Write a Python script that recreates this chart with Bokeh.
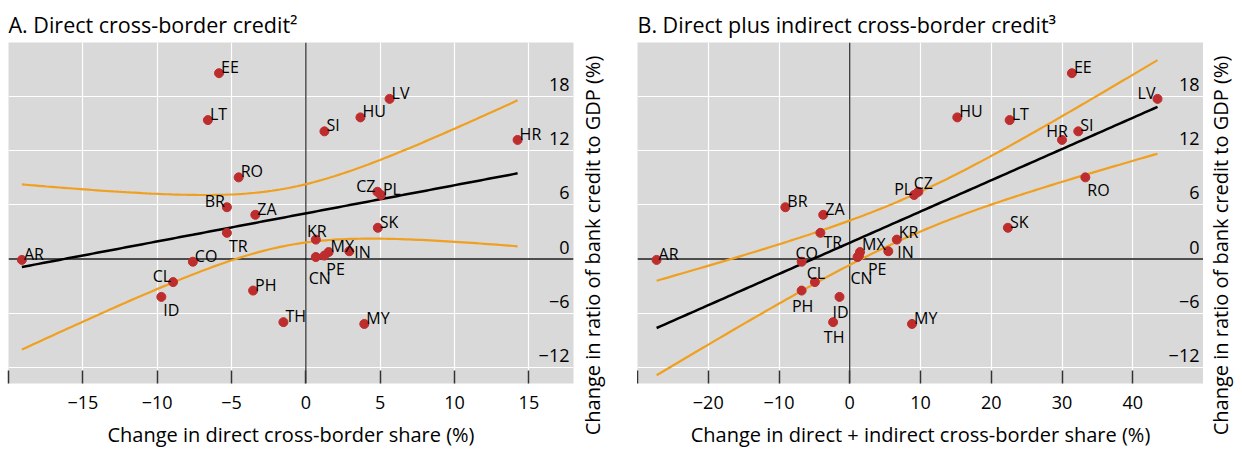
import math
import numpy as np
from bokeh.plotting import figure
from bokeh.layouts import row, column
from bokeh.models import ColumnDataSource, FixedTicker, Span, Range1d, Grid
from bokeh.core.properties import value
from bokeh.embed import file_html
from bokeh.resources import INLINE

# ---------------- data ----------------
COUNTRIES = ["EE", "LT", "LV", "HU", "SI", "HR", "RO", "CZ", "PL", "BR", "ZA", "TR", "SK",
             "KR", "AR", "CO", "MX", "IN", "CN", "PE", "CL", "ID", "PH", "TH", "MY"]
# change in ratio of bank credit to GDP (%)
CREDIT_CHANGE = [20.6, 15.4, 17.75, 15.7, 14.15, 13.2, 9.05, 7.45, 7.1, 5.74, 4.9, 2.9, 3.46,
                 2.15, -0.1, -0.3, 0.77, 0.86, 0.22, 0.38, -2.56, -4.2, -3.5, -7.0, -7.2]
# change in direct cross-border share (%)
DIRECT_SHARE = [-5.84, -6.59, 5.63, 3.67, 1.25, 14.24, -4.52, 4.81, 5.05, -5.31, -3.40, -5.31, 4.84,
                0.67, -19.1, -7.6, 1.53, 2.92, 0.67, 1.24, -8.93, -9.72, -3.55, -1.51, 3.93]
# change in direct + indirect cross-border share (%)
TOTAL_SHARE = [31.4, 22.6, 43.5, 15.2, 32.3, 30.0, 33.3, 9.7, 9.1, -9.1, -3.75, -4.15, 22.35,
               6.65, -27.3, -6.8, 1.45, 5.45, 1.1, 1.3, -4.93, -1.45, -6.8, -2.35, 8.8]

X_TICKS_A = [-20, -15, -10, -5, 0, 5, 10, 15]
X_TICK_LABELS_A = ["", "\u221215", "\u221210", "\u22125", "0", "5", "10", "15"]
X_TICKS_B = [-30, -20, -10, 0, 10, 20, 30, 40]
X_TICK_LABELS_B = ["", "\u221220", "\u221210", "0", "10", "20", "30", "40"]
Y_TICKS = [-12, -6, 0, 6, 12, 18]
Y_TICK_LABELS = ["\u221212", "\u22126", "0", "6", "12", "18"]

TITLE_A = "A. Direct cross-border credit\u00b2"
TITLE_B = "B. Direct plus indirect cross-border credit\u00b3"
XLABEL_A = "Change in direct cross-border share (%)"
XLABEL_B = "Change in direct + indirect cross-border share (%)"
YLABEL = "Change in ratio of bank credit to GDP (%)"

# ---------------- styling ----------------
FONT = "Open Sans"
BG = "#d9d9d9"
RED = "#be2d2d"
ORANGE = "#f0a020"
T_CRIT = 2.069  # two-sided 95%, 23 degrees of freedom

X_RANGE_A = (-20, 18)
X_RANGE_B = (-30, 50)
Y_RANGE = (-13.8, 24)

# label placement codes -> (dx, dy, align), text vertically centred at point + dy
PLACE = {
    "ur": (2, -6, "left"),
    "ur2": (2, -8, "left"),
    "ul": (-2, -6, "right"),
    "uc": (1, -9, "center"),
    "ucl": (-5, -9, "center"),
    "ucr": (5, -9, "center"),
    "lr": (2, 13, "left"),
    "lr3": (3, 9, "left"),
    "lr2": (9, 13, "left"),
    "lc": (1, 15, "center"),
    "lc2": (4, 21, "center"),
    "rm": (5, 1, "left"),
    "rm2": (9, 1, "left"),
}
LABEL_POS_A = {"EE": "ur", "LT": "ur", "LV": "ur", "HU": "ur", "SI": "ur", "HR": "ur", "RO": "ur",
               "CZ": "ul", "PL": "ur", "BR": "ul", "ZA": "ur", "TR": "lr", "SK": "ur", "KR": "uc",
               "AR": "ur", "CO": "ur", "MX": "ur", "IN": "rm", "CN": "lc2", "PE": "lr", "CL": "ul",
               "ID": "lr", "PH": "ur", "TH": "ur", "MY": "ur"}
LABEL_POS_B = {"EE": "ur", "LT": "ur", "LV": "ul", "HU": "ur", "SI": "ur", "HR": "ucl", "RO": "lr",
               "CZ": "ucr", "PL": "ul", "BR": "ur", "ZA": "ur", "TR": "lr3", "SK": "ur", "KR": "ur2",
               "AR": "ur", "CO": "ucr", "MX": "ur2", "IN": "rm2", "CN": "lc2", "PE": "lr2", "CL": "uc",
               "ID": "lc", "PH": "lc", "TH": "lc", "MY": "ur"}

PANEL_TOP = 42
PANEL_BOTTOM = 66
YTITLE_TOP = 52
YTITLE_BOTTOM = 12


def ols_band(x, y, n_pts=120):
    x = np.asarray(x, float)
    y = np.asarray(y, float)
    n = len(x)
    xbar, ybar = x.mean(), y.mean()
    sxx = ((x - xbar) ** 2).sum()
    slope = ((x - xbar) * (y - ybar)).sum() / sxx
    icpt = ybar - slope * xbar
    resid = y - (icpt + slope * x)
    s = math.sqrt((resid ** 2).sum() / (n - 2))
    xs = np.linspace(x.min(), x.max(), n_pts)
    fit = icpt + slope * xs
    se = s * np.sqrt(1.0 / n + (xs - xbar) ** 2 / sxx)
    return xs, fit, fit - T_CRIT * se, fit + T_CRIT * se


def make_panel(title, xvals, xlabel, xrange, xticks, xticklabels, label_pos, width,
               border_left, border_right):
    p = figure(width=width, height=450, title=title, output_backend="svg", toolbar_location=None,
               x_range=Range1d(*xrange), y_range=Range1d(*Y_RANGE), y_axis_location=None,
               min_border_left=border_left, min_border_right=border_right,
               min_border_top=PANEL_TOP, min_border_bottom=PANEL_BOTTOM)
    p.background_fill_color = BG
    p.border_fill_color = "white"
    p.outline_line_color = None

    p.title.text_font = FONT
    p.title.text_font_size = "21.5px"
    p.title.text_font_style = "normal"
    p.title.text_color = "black"
    p.title.align = "left"
    p.title.offset = 0
    p.title.standoff = 7

    # grids
    p.xgrid.ticker = FixedTicker(ticks=xticks)
    if len(p.ygrid) > 0:
        p.ygrid.ticker = FixedTicker(ticks=Y_TICKS)
    else:
        p.add_layout(Grid(dimension=1, ticker=FixedTicker(ticks=Y_TICKS)))
    p.grid.grid_line_color = "white"
    p.grid.grid_line_width = 1.2

    # x axis
    xa = p.xaxis[0]
    xa.ticker = FixedTicker(ticks=xticks)
    xa.major_label_overrides = {t: l for t, l in zip(xticks, xticklabels)}
    xa.axis_line_color = None
    xa.major_tick_in = 13
    xa.major_tick_out = 0
    xa.major_tick_line_color = "#333333"
    xa.major_tick_line_width = 1.5
    xa.minor_tick_line_color = None
    xa.major_label_text_font = FONT
    xa.major_label_text_font_size = "18px"
    xa.major_label_text_color = "black"
    xa.major_label_standoff = 12
    xa.axis_label = xlabel
    xa.axis_label_text_font = FONT
    xa.axis_label_text_font_size = "20px"
    xa.axis_label_text_font_style = "normal"
    xa.axis_label_text_color = "black"
    xa.axis_label_standoff = 9

    # zero lines
    p.add_layout(Span(location=0, dimension="width", line_color="#4d4d4d", line_width=2, level="underlay"))
    p.add_layout(Span(location=0, dimension="height", line_color="black", line_width=1, level="underlay"))

    # y tick labels inside the frame, right aligned
    p.text(x=[xrange[1]] * len(Y_TICKS), y=Y_TICKS, text=Y_TICK_LABELS, x_offset=-4, y_offset=-12,
           text_align="right", text_baseline="middle", text_font=value(FONT),
           text_font_size=value("18px"), text_color="black")

    # regression with 95% confidence band
    xs, fit, lo, hi = ols_band(xvals, CREDIT_CHANGE)
    p.line(xs, lo, line_color=ORANGE, line_width=2.2)
    p.line(xs, hi, line_color=ORANGE, line_width=2.2)
    p.line(xs, fit, line_color="black", line_width=2.5)

    # points and labels
    codes = [label_pos[c] for c in COUNTRIES]
    src = ColumnDataSource(dict(
        x=xvals, y=CREDIT_CHANGE, name=COUNTRIES,
        dx=[PLACE[c][0] for c in codes], dy=[PLACE[c][1] for c in codes],
        align=[PLACE[c][2] for c in codes]))
    p.scatter("x", "y", source=src, size=9, fill_color=RED, line_color=RED)
    p.text("x", "y", text="name", source=src, x_offset="dx", y_offset="dy", text_align="align",
           text_baseline="middle", text_font=value(FONT), text_font_size=value("16px"),
           text_color="black")
    return p


def make_ytitle(width, border_left):
    """Narrow strip holding the rotated y-axis title (reads bottom to top)."""
    q = figure(width=width, height=450, output_backend="svg", toolbar_location=None,
               x_range=Range1d(0, 1), y_range=Range1d(0, 1), x_axis_location=None,
               y_axis_location="left", min_border_left=border_left, min_border_right=0,
               min_border_top=YTITLE_TOP, min_border_bottom=YTITLE_BOTTOM)
    q.outline_line_color = None
    q.background_fill_color = "white"
    q.border_fill_color = "white"
    q.grid.visible = False
    ya = q.yaxis[0]
    ya.ticker = FixedTicker(ticks=[])
    ya.axis_line_color = None
    ya.major_tick_out = 0
    ya.major_tick_in = 0
    ya.minor_tick_line_color = None
    ya.major_label_standoff = 0
    ya.axis_label = YLABEL
    ya.axis_label_text_font = FONT
    ya.axis_label_text_font_size = "20px"
    ya.axis_label_text_font_style = "normal"
    ya.axis_label_text_color = "black"
    ya.axis_label_standoff = 2
    return q


p1 = make_panel(TITLE_A, DIRECT_SHARE, XLABEL_A, X_RANGE_A, X_TICKS_A, X_TICK_LABELS_A,
                LABEL_POS_A, width=575, border_left=8, border_right=2)
ta = make_ytitle(width=62, border_left=30)
p2 = make_panel(TITLE_B, TOTAL_SHARE, XLABEL_B, X_RANGE_B, X_TICKS_B, X_TICK_LABELS_B,
                LABEL_POS_B, width=566, border_left=0, border_right=0)
tb = make_ytitle(width=39, border_left=32)

layout = row(p1, column(ta), p2, column(tb))
open("out.html", "w").write(file_html(layout, INLINE))
